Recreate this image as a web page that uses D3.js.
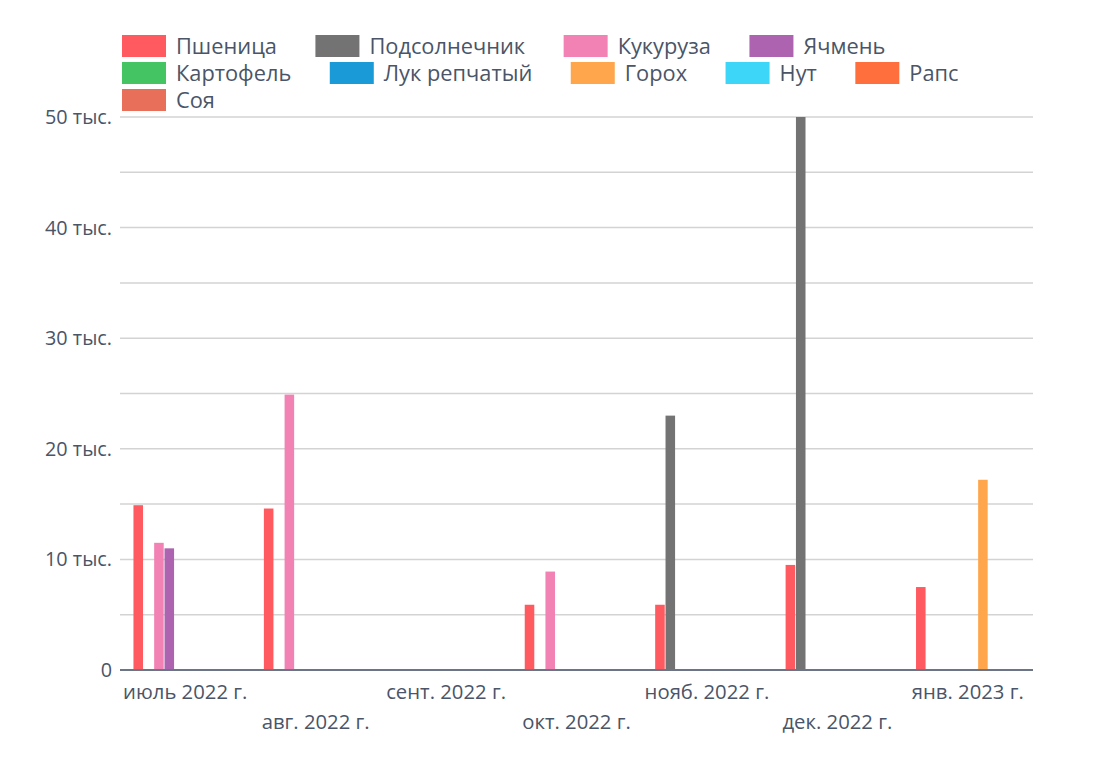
<!DOCTYPE html>
<html>
<head>
<meta charset="utf-8">
<script src="https://cdn.jsdelivr.net/npm/d3@7"></script>
<style>
  body { margin: 0; background: #fff; }
  svg { font-family: "Open Sans", "Noto Sans", sans-serif; }
</style>
</head>
<body>
<svg id="chart" width="1110" height="763"></svg>
<script>
const months = ['июль 2022 г.', 'авг. 2022 г.', 'сент. 2022 г.', 'окт. 2022 г.', 'нояб. 2022 г.', 'дек. 2022 г.', 'янв. 2023 г.'];
const crops = ['Пшеница', 'Подсолнечник', 'Кукуруза', 'Ячмень', 'Картофель', 'Лук репчатый', 'Горох', 'Нут', 'Рапс', 'Соя'];
const colors = ['#ff5a5f', '#737373', '#f282b4', '#ad63b0', '#45c464', '#1a9ad6', '#ffa64d', '#3dd5f8', '#ff6e3d', '#e8705a'];

// values per crop, one per month (null = no bar)
const wheat     = [14900, 14600, null, 5900, 5900, 9500, 7500];
const sunflower = [null, null, null, null, 23000, 50000, null];
const corn      = [11500, 24900, null, 8900, null, null, null];
const barley    = [11000, null, null, null, null, null, null];
const potato    = [null, null, null, null, null, null, null];
const onion     = [null, null, null, null, null, null, null];
const peas      = [null, null, null, null, null, null, 17200];
const chickpea  = [null, null, null, null, null, null, null];
const rapeseed  = [null, null, null, null, null, null, null];
const soy       = [null, null, null, null, null, null, null];
const series = [wheat, sunflower, corn, barley, potato, onion, peas, chickpea, rapeseed, soy];

const yTicks = [0, 10000, 20000, 30000, 40000, 50000];
const yTickLabels = ['0', '10 тыс.', '20 тыс.', '30 тыс.', '40 тыс.', '50 тыс.'];

const svg = d3.select('#chart');
const margin = { left: 120, right: 1033, top: 117, bottom: 670 };
const textColor = '#4a5568';

const x = d3.scaleBand().domain(months).range([margin.left, margin.right]).paddingInner(0).paddingOuter(0);
const xInner = d3.scaleBand().domain(crops).range([0, x.bandwidth()]).paddingOuter(1.3).paddingInner(0);
const y = d3.scaleLinear().domain([0, 50000]).range([margin.bottom, margin.top]);

// grid every 5k
const gridVals = d3.range(5000, 50001, 5000);
svg.append('g')
  .selectAll('line')
  .data(gridVals)
  .join('line')
  .attr('x1', margin.left).attr('x2', margin.right)
  .attr('y1', (d) => y(d)).attr('y2', (d) => y(d))
  .attr('stroke', '#d3d3d3').attr('stroke-width', 1.5);

// y labels
svg.append('g')
  .selectAll('text')
  .data(yTicks)
  .join('text')
  .attr('x', 112)
  .attr('y', (d) => y(d))
  .attr('dy', '0.35em')
  .attr('text-anchor', 'end')
  .attr('fill', textColor)
  .attr('font-size', 19.8)
  .text((d, i) => yTickLabels[i]);

// bars
const barData = [];
series.forEach((vals, si) => {
  vals.forEach((v, mi) => {
    if (v != null) barData.push({ crop: crops[si], month: months[mi], value: v, color: colors[si] });
  });
});
svg.append('g')
  .selectAll('rect')
  .data(barData)
  .join('rect')
  .attr('x', (d) => x(d.month) + xInner(d.crop))
  .attr('width', xInner.bandwidth() - 0.8)
  .attr('y', (d) => y(d.value))
  .attr('height', (d) => y(0) - y(d.value))
  .attr('fill', (d) => d.color);

// x axis line
svg.append('line')
  .attr('x1', margin.left).attr('x2', margin.right)
  .attr('y1', y(0)).attr('y2', y(0))
  .attr('stroke', '#6b7585').attr('stroke-width', 2);

// x labels, staggered
svg.append('g')
  .selectAll('text')
  .data(months)
  .join('text')
  .attr('x', (d) => x(d) + x.bandwidth() / 2)
  .attr('y', (d, i) => (i % 2 === 0 ? 699 : 729))
  .attr('text-anchor', 'middle')
  .attr('fill', textColor)
  .attr('font-size', 20.3)
  .text((d) => d);

// legend, flowing
const legend = svg.append('g');
const rowH = 27;
let lx = 122, ly = 35;
crops.forEach((c, i) => {
  const g = legend.append('g');
  const t = g.append('text')
    .attr('x', 54).attr('y', 11).attr('dy', '0.35em')
    .attr('fill', textColor).attr('font-size', 21.8)
    .text(c);
  const w = 54 + t.node().getComputedTextLength();
  if (lx + w > 1040 && lx > 122) { lx = 122; ly += rowH; }
  g.attr('transform', `translate(${lx},${ly})`);
  g.insert('rect', 'text').attr('width', 44).attr('height', 22).attr('fill', colors[i]);
  lx += w + 38.5;
});
</script>
</body>
</html>
